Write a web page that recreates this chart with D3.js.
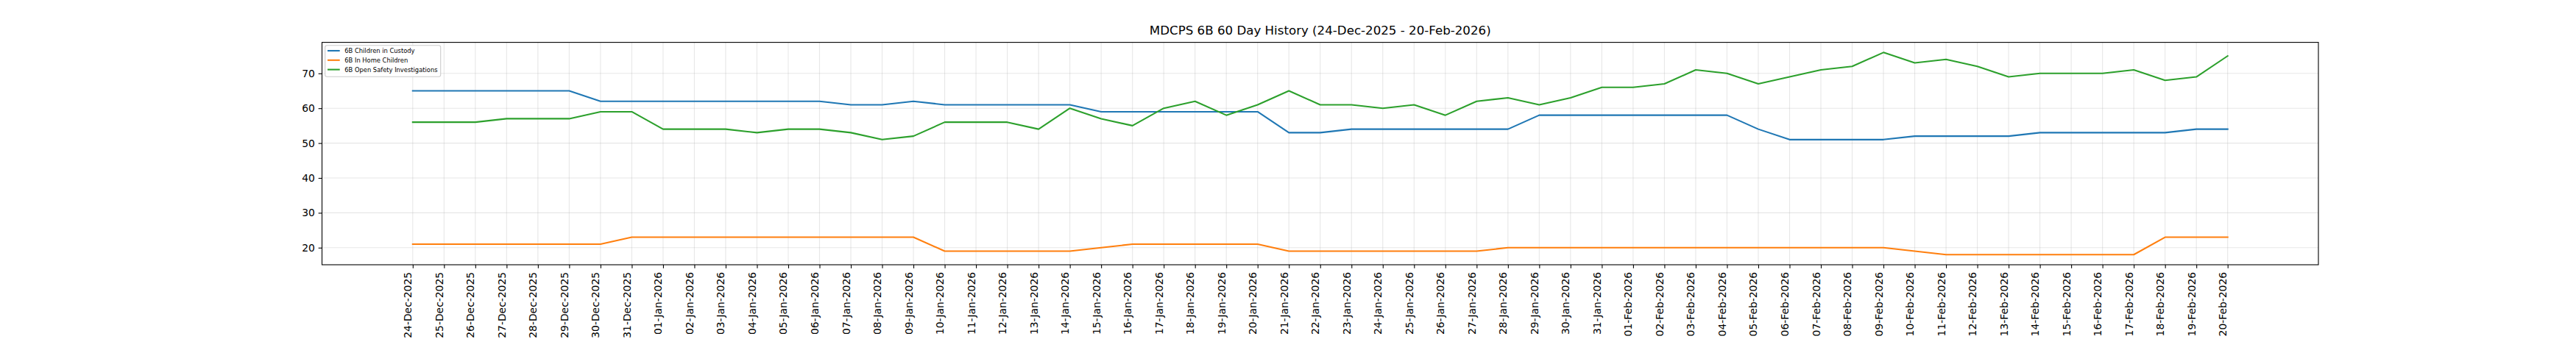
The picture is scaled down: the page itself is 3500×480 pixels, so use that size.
<!DOCTYPE html>
<html>
<head>
<meta charset="utf-8">
<script src="https://cdn.jsdelivr.net/npm/d3@7"></script>
<style>
  html, body { margin: 0; padding: 0; background: #ffffff; }
  svg { display: block; font-family: "DejaVu Sans", sans-serif; }
</style>
</head>
<body>
<svg id="chart" width="3500" height="480"></svg>
<script>
const dates = [
  "24-Dec-2025","25-Dec-2025","26-Dec-2025","27-Dec-2025","28-Dec-2025","29-Dec-2025","30-Dec-2025","31-Dec-2025",
  "01-Jan-2026","02-Jan-2026","03-Jan-2026","04-Jan-2026","05-Jan-2026","06-Jan-2026","07-Jan-2026","08-Jan-2026",
  "09-Jan-2026","10-Jan-2026","11-Jan-2026","12-Jan-2026","13-Jan-2026","14-Jan-2026","15-Jan-2026","16-Jan-2026",
  "17-Jan-2026","18-Jan-2026","19-Jan-2026","20-Jan-2026","21-Jan-2026","22-Jan-2026","23-Jan-2026","24-Jan-2026",
  "25-Jan-2026","26-Jan-2026","27-Jan-2026","28-Jan-2026","29-Jan-2026","30-Jan-2026","31-Jan-2026",
  "01-Feb-2026","02-Feb-2026","03-Feb-2026","04-Feb-2026","05-Feb-2026","06-Feb-2026","07-Feb-2026","08-Feb-2026",
  "09-Feb-2026","10-Feb-2026","11-Feb-2026","12-Feb-2026","13-Feb-2026","14-Feb-2026","15-Feb-2026","16-Feb-2026",
  "17-Feb-2026","18-Feb-2026","19-Feb-2026","20-Feb-2026"
];
const childrenInCustody = [
  65,65,65,65,65,65,62,62,62,62,62,62,62,62,61,61,62,61,61,61,61,61,59,59,59,59,59,59,
  53,53,54,54,54,54,54,54,58,58,58,58,58,58,58,54,51,51,51,51,52,52,52,52,53,53,53,53,53,54,54
];
const inHomeChildren = [
  21,21,21,21,21,21,21,23,23,23,23,23,23,23,23,23,23,19,19,19,19,19,20,21,21,21,21,21,
  19,19,19,19,19,19,19,20,20,20,20,20,20,20,20,20,20,20,20,20,19,18,18,18,18,18,18,18,23,23,23
];
const openSafetyInvestigations = [
  56,56,56,57,57,57,59,59,54,54,54,53,54,54,53,51,52,56,56,56,54,60,57,55,60,62,58,61,
  65,61,61,60,61,58,62,63,61,63,66,66,67,71,70,67,69,71,72,76,73,74,72,69,70,70,70,71,68,69,75
];
const seriesNames = ["6B Children in Custody", "6B In Home Children", "6B Open Safety Investigations"];
const seriesColors = ["#1f77b4", "#ff7f0e", "#2ca02c"];
const yTicks = [20, 30, 40, 50, 60, 70];
const titleText = "MDCPS 6B 60 Day History (24-Dec-2025 - 20-Feb-2026)";

const allSeries = [childrenInCustody, inHomeChildren, openSafetyInvestigations];

const L = 437.5, R = 3150, T = 57.6, B = 360;
const svg = d3.select("#chart");

const x = d3.scalePoint().domain(dates).range([L, R]).padding(2.9);
const allVals = allSeries.flat();
const vmin = d3.min(allVals), vmax = d3.max(allVals);
const marg = (vmax - vmin) * 0.05;
const y = d3.scaleLinear().domain([vmin - marg, vmax + marg]).range([B, T]);

// grid
const grid = svg.append("g");
grid.selectAll("line.vg").data(dates).join("line")
  .attr("x1", d => x(d)).attr("x2", d => x(d)).attr("y1", T).attr("y2", B)
  .attr("stroke", "#b0b0b0").attr("stroke-opacity", 0.3).attr("stroke-width", 1.1);
grid.selectAll("line.hg").data(yTicks).join("line")
  .attr("x1", L).attr("x2", R).attr("y1", d => y(d)).attr("y2", d => y(d))
  .attr("stroke", "#b0b0b0").attr("stroke-opacity", 0.3).attr("stroke-width", 1.1);

// lines
const line = d3.line().x((d, i) => x(dates[i])).y(d => y(d));
allSeries.forEach((s, k) => {
  svg.append("path").datum(s).attr("d", line)
    .attr("fill", "none").attr("stroke", seriesColors[k])
    .attr("stroke-width", 2.08).attr("stroke-linejoin", "round").attr("stroke-linecap", "square");
});

// spines
svg.append("rect").attr("x", L).attr("y", T).attr("width", R - L).attr("height", B - T)
  .attr("fill", "none").attr("stroke", "#000").attr("stroke-width", 1.1);

// x axis
const xAxis = d3.axisBottom(x).tickSize(4.86).tickPadding(4.86);
const gx = svg.append("g").attr("transform", `translate(0,${B})`).call(xAxis);
gx.select(".domain").remove();
gx.selectAll(".tick line").attr("stroke", "#000").attr("stroke-width", 1.1);
gx.selectAll(".tick text")
  .attr("font-size", "13.89px").attr("fill", "#000")
  .attr("font-family", "DejaVu Sans")
  .attr("text-anchor", "end")
  .attr("transform", "translate(0,9.9) rotate(-90)")
  .attr("x", 0).attr("y", -2).attr("dy", null);

// y axis
const yAxis = d3.axisLeft(y).tickValues(yTicks).tickSize(4.86).tickPadding(4.86);
const gy = svg.append("g").attr("transform", `translate(${L},0)`).call(yAxis);
gy.select(".domain").remove();
gy.selectAll(".tick line").attr("stroke", "#000").attr("stroke-width", 1.1);
gy.selectAll(".tick text").attr("font-size", "13.89px").attr("fill", "#000")
  .attr("font-family", "DejaVu Sans");

// title
svg.append("text").attr("x", (L + R) / 2).attr("y", 47)
  .attr("text-anchor", "middle").attr("font-size", "16.67px").attr("fill", "#000")
  .text(titleText);

// legend
const lg = svg.append("g");
lg.append("rect").attr("x", 441.7).attr("y", 61.7).attr("width", 157).attr("height", 42.5)
  .attr("rx", 2.5).attr("fill", "#fff").attr("fill-opacity", 0.8)
  .attr("stroke", "#cccccc").attr("stroke-width", 1.1);
seriesNames.forEach((name, k) => {
  const cy = 69 + k * 12.8;
  lg.append("line").attr("x1", 445).attr("x2", 461.7).attr("y1", cy).attr("y2", cy)
    .attr("stroke", seriesColors[k]).attr("stroke-width", 2.08);
  lg.append("text").attr("x", 468.3).attr("y", cy).attr("dy", "0.35em")
    .attr("font-size", "8.33px").attr("fill", "#000").text(name);
});
</script>
</body>
</html>
